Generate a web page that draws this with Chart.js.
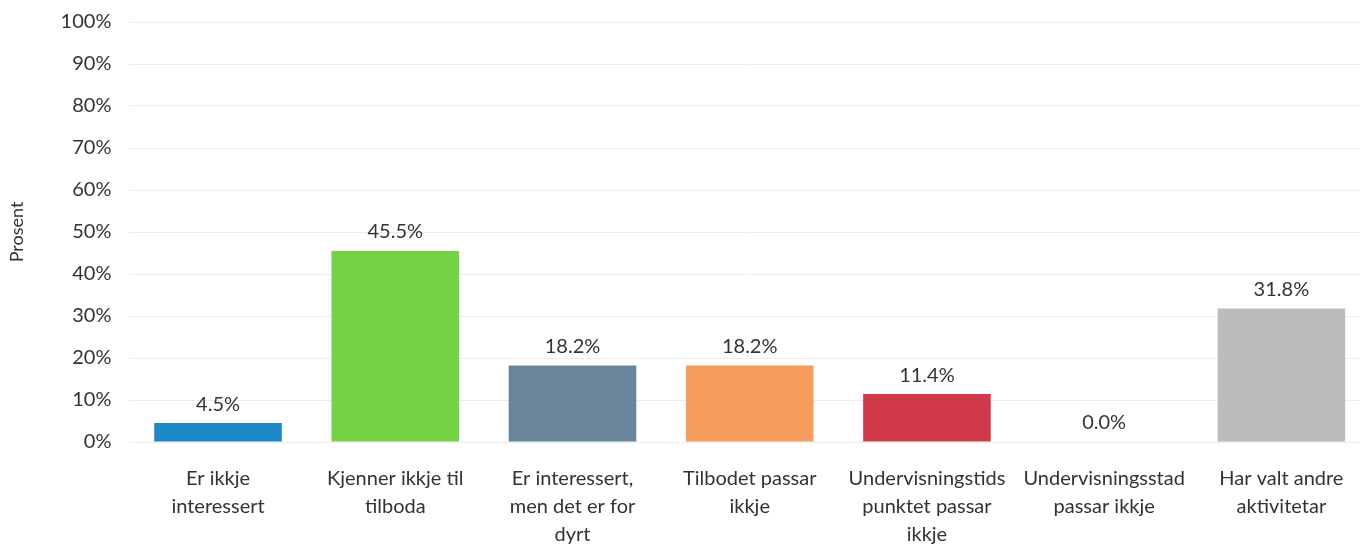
<!DOCTYPE html>
<html>
<head>
<meta charset="utf-8">
<title>Prosent</title>
<script src="https://cdn.jsdelivr.net/npm/chart.js@4/dist/chart.umd.min.js"></script>
<style>
  html, body { margin: 0; padding: 0; background: #fff; overflow: hidden; }
  #wrap { width: 1370px; height: 553px; margin-top: -8px; position: relative; }
</style>
</head>
<body>
<div id="wrap"><canvas id="barChart"></canvas></div>
<script>
  // categories (wrapped as in the original), values in percent
  const categories = [
    ['Er ikkje', 'interessert'],
    ['Kjenner ikkje til', 'tilboda'],
    ['Er interessert,', 'men det er for', 'dyrt'],
    ['Tilbodet passar', 'ikkje'],
    ['Undervisningstids', 'punktet passar', 'ikkje'],
    ['Undervisningsstad', 'passar ikkje'],
    ['Har valt andre', 'aktivitetar']
  ];
  const values = [4.5, 45.5, 18.2, 18.2, 11.4, 0.0, 31.8];
  const barColors = ['#1c88c8', '#74d244', '#6a8599', '#f59d5c', '#d13a4a', '#d13a4a', '#bcbcbc'];
  const yTicks = [0, 10, 20, 30, 40, 50, 60, 70, 80, 90, 100];

  const textColor = '#333333';
  const fontFamily = 'Lato, "Open Sans", sans-serif';

  // draw the value labels above each bar
  const valueLabels = {
    id: 'valueLabels',
    afterDatasetsDraw(chart) {
      const ctx = chart.ctx;
      const meta = chart.getDatasetMeta(0);
      ctx.save();
      ctx.fillStyle = textColor;
      ctx.font = '20px ' + fontFamily;
      ctx.textAlign = 'center';
      ctx.textBaseline = 'middle';
      meta.data.forEach((bar, i) => {
        ctx.fillText(values[i].toFixed(1) + '%', bar.x, bar.y - 19);
      });
      ctx.restore();
    }
  };

  new Chart(document.getElementById('barChart'), {
    type: 'bar',
    data: {
      labels: categories,
      datasets: [{
        label: 'Prosent',
        data: values,
        backgroundColor: barColors,
        barPercentage: 0.72,
        categoryPercentage: 1.0
      }]
    },
    options: {
      responsive: true,
      maintainAspectRatio: false,
      animation: false,
      layout: { padding: { top: 7, right: 0, bottom: -27, left: 6 } },
      plugins: {
        legend: { display: false },
        tooltip: { enabled: false }
      },
      scales: {
        x: {
          grid: { display: false, drawTicks: false },
          border: { display: false },
          ticks: {
            autoSkip: false,
            maxRotation: 0,
            minRotation: 0,
            padding: 23,
            color: textColor,
            font: { family: fontFamily, size: 20, lineHeight: '28px' }
          }
        },
        y: {
          min: 0,
          max: 100,
          afterBuildTicks(axis) {
            axis.ticks = yTicks.map(v => ({ value: v }));
          },
          grid: { color: '#ececec', drawTicks: false },
          border: { display: false },
          ticks: {
            padding: 18,
            color: textColor,
            font: { family: fontFamily, size: 20 },
            callback: v => v + '%'
          },
          title: {
            display: true,
            text: 'Prosent',
            color: textColor,
            font: { family: fontFamily, size: 18 },
            padding: { top: 0, bottom: 15 }
          }
        }
      }
    },
    plugins: [valueLabels]
  });
</script>
</body>
</html>
